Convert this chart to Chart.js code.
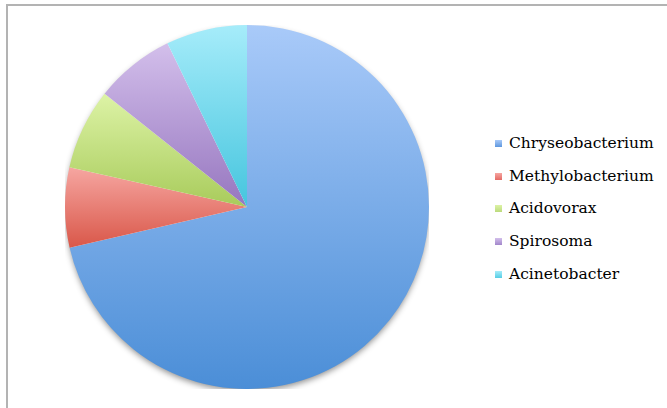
<!DOCTYPE html>
<html>
<head>
<meta charset="utf-8">
<script src="https://cdn.jsdelivr.net/npm/chart.js@4"></script>
<style>
  html, body { margin: 0; padding: 0; background: #fff; }
  body { width: 667px; height: 408px; position: relative; overflow: hidden; }
  #frame {
    position: absolute; left: 6px; top: 4px; width: 700px; height: 450px;
    border: 2px solid #b3b3b3; box-sizing: border-box;
  }
  #wrap { position: absolute; left: 65px; top: 25px; width: 364px; height: 364px; }
  #legend {
    position: absolute; left: 495px; top: 130px; margin: 0; padding: 0; list-style: none;
    font-family: "DejaVu Serif", serif; font-size: 15.5px; color: #000;
  }
  #legend li { height: 32.7px; line-height: 26px; white-space: nowrap; }
  #legend span.box {
    display: inline-block; width: 7px; height: 7px; margin-right: 7px; vertical-align: 1px;
  }
</style>
</head>
<body>
<div id="frame"></div>
<div id="wrap"><canvas id="pie"></canvas></div>
<ul id="legend"></ul>
<script>
// chart data
const genera = ['Chryseobacterium', 'Methylobacterium', 'Acidovorax', 'Spirosoma', 'Acinetobacter'];
const shares = [71.4, 7.1, 7.2, 7.1, 7.2];

// gradient stops per slice (light top, dark bottom) and legend swatches
const topColors = ['#a9caf9', '#f6a6a1', '#ddf3a6', '#d3bfeb', '#a6ecfa'];
const bottomColors = ['#4b8ed7', '#d95749', '#a8cb5b', '#9676bf', '#45c5de'];
const swatchColors = ['#5e97de', '#e46a64', '#bbda7c', '#a186ca', '#56cde4'];

// vertical extent of a slice, so each slice gets its own gradient
function sliceRange(i, cy, r) {
  const total = shares.reduce((a, b) => a + b, 0);
  let cum = 0;
  for (let k = 0; k < i; k++) cum += shares[k];
  const a0 = -Math.PI / 2 + 2 * Math.PI * cum / total;
  const a1 = -Math.PI / 2 + 2 * Math.PI * (cum + shares[i]) / total;
  let lo = 0, hi = 0;
  for (let s = 0; s <= 64; s++) {
    const v = Math.sin(a0 + (a1 - a0) * s / 64);
    lo = Math.min(lo, v);
    hi = Math.max(hi, v);
  }
  return [cy + r * lo, cy + r * hi];
}

function sliceFill(context) {
  const chart = context.chart;
  const area = chart.chartArea;
  const i = context.dataIndex;
  if (!area) return swatchColors[i];
  const cy = (area.top + area.bottom) / 2;
  const r = Math.min(area.right - area.left, area.bottom - area.top) / 2;
  const [y0, y1] = sliceRange(i, cy, r);
  const g = chart.ctx.createLinearGradient(0, y0, 0, y1);
  g.addColorStop(0, topColors[i]);
  g.addColorStop(1, bottomColors[i]);
  return g;
}

// soft drop shadow underneath the pie
const pieShadow = {
  id: 'pieShadow',
  beforeDatasetsDraw(chart) {
    const arc = chart.getDatasetMeta(0).data[0];
    if (!arc) return;
    const ctx = chart.ctx;
    ctx.save();
    ctx.shadowColor = 'rgba(0,0,0,0.45)';
    ctx.shadowBlur = 6;
    ctx.shadowOffsetY = 3;
    ctx.fillStyle = '#fff';
    ctx.beginPath();
    ctx.arc(arc.x, arc.y, arc.outerRadius - 1, 0, Math.PI * 2);
    ctx.fill();
    ctx.restore();
  }
};

new Chart(document.getElementById('pie'), {
  type: 'pie',
  data: {
    labels: genera,
    datasets: [{
      data: shares,
      backgroundColor: sliceFill,
      borderWidth: 0,
      hoverOffset: 0
    }]
  },
  options: {
    responsive: true,
    maintainAspectRatio: false,
    animation: false,
    layout: { padding: 0 },
    plugins: {
      legend: { display: false },
      tooltip: { enabled: false }
    }
  },
  plugins: [pieShadow]
});

// legend
const legend = document.getElementById('legend');
genera.forEach((name, i) => {
  const li = document.createElement('li');
  const box = document.createElement('span');
  box.className = 'box';
  box.style.background = 'linear-gradient(' + topColors[i] + ',' + swatchColors[i] + ')';
  li.appendChild(box);
  li.appendChild(document.createTextNode(name));
  legend.appendChild(li);
});
</script>
</body>
</html>
